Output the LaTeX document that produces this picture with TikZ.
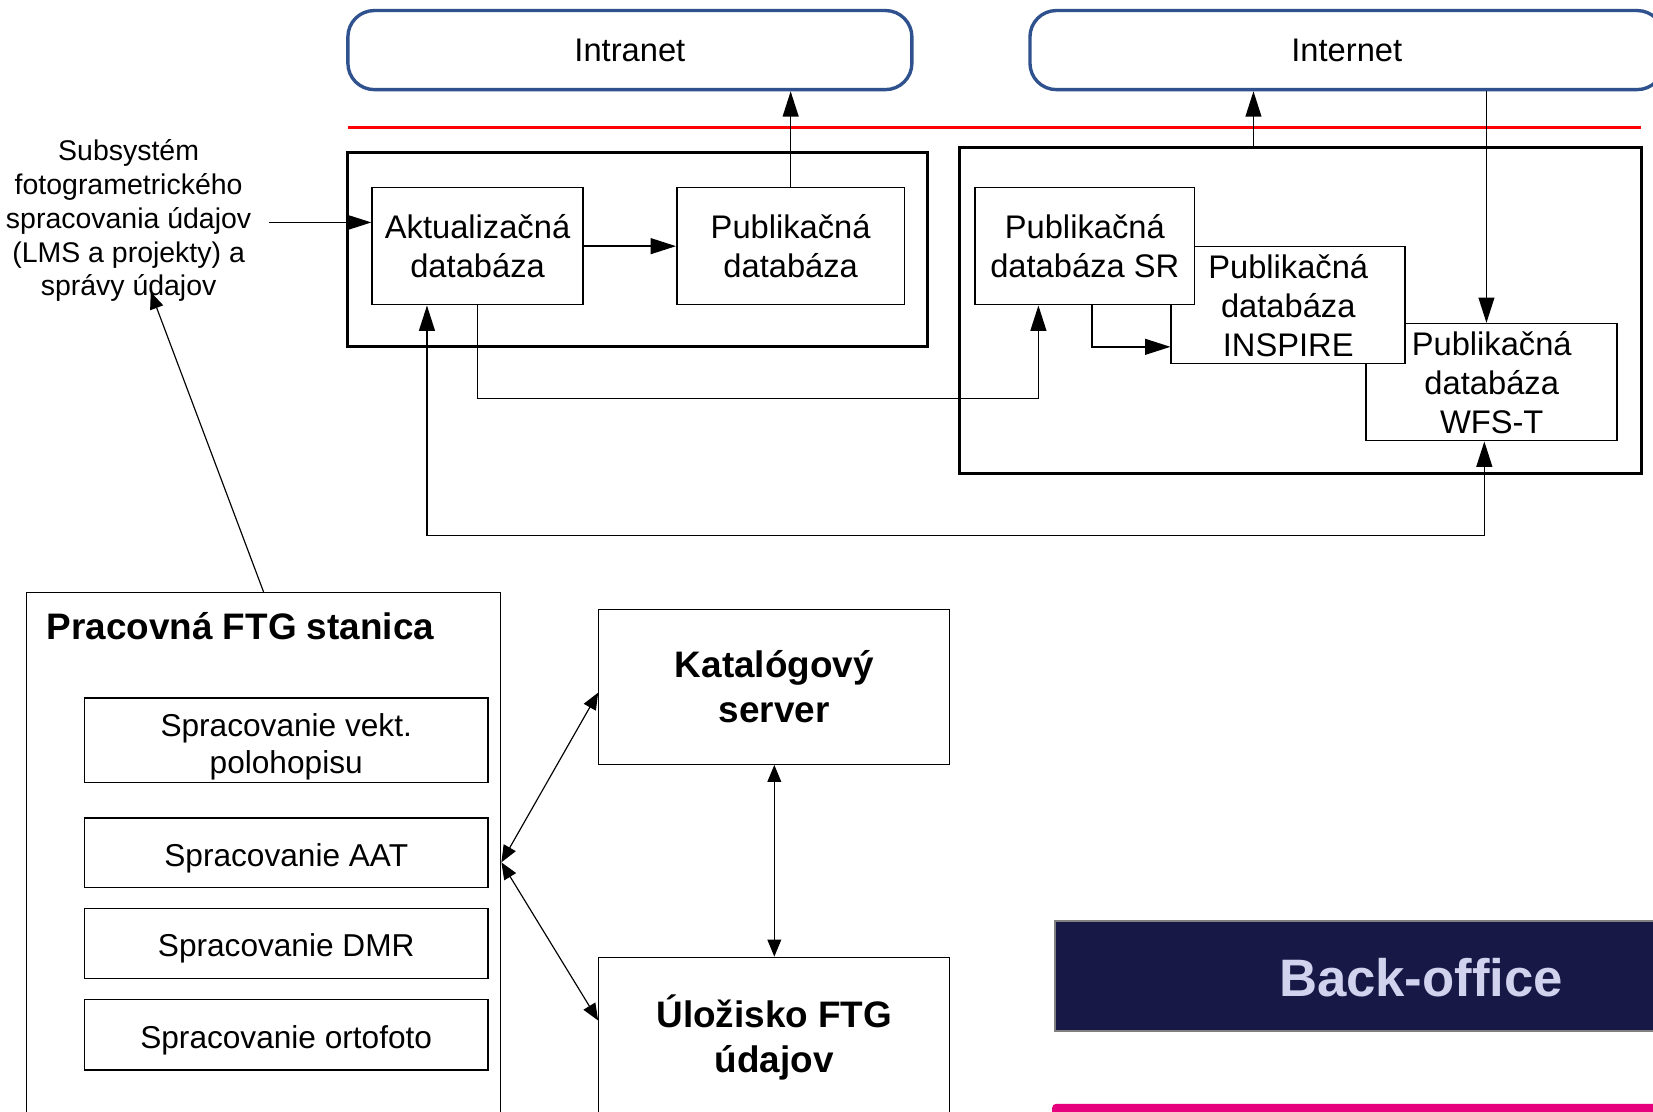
\documentclass[tikz,border=0pt]{standalone}
\usepackage{fontspec}
\setmainfont{Liberation Sans}
\usetikzlibrary{arrows.meta}
\definecolor{netblue}{RGB}{47,82,143}
\definecolor{navyfill}{RGB}{24,24,70}
\definecolor{lavtext}{RGB}{208,210,238}
\definecolor{magbar}{RGB}{230,0,126}
\begin{document}
\begin{tikzpicture}[x=1pt,y=-1pt,
  netbox/.style={draw=netblue, line width=3.2pt, rounded corners=25pt, fill=white, inner sep=1pt,
    font=\fontsize{31pt}{37pt}\selectfont},
  bigbox/.style={draw=black, line width=3pt},
  dbbox/.style={draw=black, line width=1.5pt, fill=white, inner sep=1pt, align=center,
    font=\fontsize{31pt}{37pt}\selectfont},
  subbox/.style={draw=black, line width=1.2pt, fill=white, inner sep=1pt},
  subtext/.style={inner sep=0pt, align=center, font=\fontsize{30pt}{35pt}\selectfont},
  srvbox/.style={draw=black, line width=1.2pt, fill=white, inner sep=1pt, align=center,
    font=\bfseries\fontsize{35pt}{43pt}\selectfont},
  conn/.style={line width=1.4pt},
  connS/.style={line width=1.1pt},
  arrT/.style={-{Triangle[length=24pt,width=15pt]}},
  darrT/.style={{Triangle[length=24pt,width=15pt]}-{Triangle[length=24pt,width=15pt]}},
  arrS/.style={-{Triangle[length=16pt,width=13pt]}},
  darrS/.style={{Triangle[length=16pt,width=13pt]}-{Triangle[length=16pt,width=13pt]}}]

\clip (0,0) rectangle (1568,1054);
\fill[white] (0,0) rectangle (1568,1054);

% network boxes
\node[netbox, minimum width=535pt, minimum height=75pt] (intranet) at (597.5,47.5) {Intranet};
\node[netbox, minimum width=601pt, minimum height=75pt] (internet) at (1277.5,47.5) {Internet};

% red separator
\draw[red, line width=2.5pt] (330,121) -- (1557,121);

% container boxes
\node[bigbox, minimum width=550pt, minimum height=184pt] (leftbig) at (605,237) {};
\node[bigbox, minimum width=647pt, minimum height=309pt] (rightbig) at (1233.5,294.5) {};

% databases
\node[dbbox, minimum width=200pt, minimum height=111pt] (akt) at (453,233.5) {Aktualizačná\\databáza};
\node[dbbox, minimum width=216pt, minimum height=111pt] (pub) at (750,233.5) {Publikačná\\databáza};
\node[dbbox, minimum width=238pt, minimum height=111pt] (wfs) at (1415,362.5) {Publikačná\\databáza\\WFS-T};
\node[dbbox, minimum width=222pt, minimum height=111pt] (insp) at (1222,289.5) {Publikačná\\databáza\\INSPIRE};
\node[dbbox, minimum width=208pt, minimum height=111pt] (sr) at (1029,233.5) {Publikačná\\databáza SR};

% subsystem text
\node[align=center, inner sep=0pt, font=\fontsize{27pt}{32pt}\selectfont] (subsys) at (122,209.5)
  {Subsystém\\fotogrametrického\\spracovania údajov\\(LMS a projekty) a\\správy údajov};

% helper coordinates
\coordinate (t1) at (255,211);
\coordinate (t2) at (143,277);
\coordinate (y378) at (0,378);
\coordinate (y508) at (0,508);
\coordinate (y329) at (0,329);
\coordinate (x1189) at (1189,0);
\coordinate (a1) at ([xshift=-48pt]akt.south);
\coordinate (s1) at ([xshift=-44pt]sr.south);
\coordinate (s2) at ([xshift=7pt]sr.south);
\coordinate (w1) at ([xshift=-5pt]wfs.north);
\coordinate (w2) at ([xshift=-7pt]wfs.south);

% top connectors
\draw[conn, arrT] (akt.east) -- (pub.west);
\draw[conn, arrT] (pub.north) -- (intranet.south -| pub.north);
\draw[conn, arrT] (t1) -- (t1 -| akt.west);
\draw[conn, arrT] (akt.south) -- (akt.south |- y378) -| (s1);
\draw[conn, darrT] (a1) -- (a1 |- y508) -| (w2);
\draw[conn, arrT] (s2) |- (insp.west |- y329);
\draw[conn, arrT] (rightbig.north -| x1189) -- (internet.south -| x1189);
\draw[conn, arrT] (internet.south -| w1) -- (w1);

% lower part
\node[draw=black, line width=1.2pt, minimum width=450pt, minimum height=508pt] (prac) at (250,816) {};
\node[anchor=west, inner sep=0pt, font=\bfseries\fontsize{35pt}{42pt}\selectfont] (pract) at (44,594) {Pracovná FTG stanica};
\node[subbox, minimum width=383pt, minimum height=80pt] (sub1) at (271.5,702) {};
\node[subbox, minimum width=383pt, minimum height=66pt] (sub2) at (271.5,809) {};
\node[subbox, minimum width=383pt, minimum height=66pt] (sub3) at (271.5,895) {};
\node[subbox, minimum width=383pt, minimum height=67pt] (sub4) at (271.5,981.5) {};
\node[subtext] (sub1t) at ([yshift=-6pt]sub1.center) {Spracovanie vekt.\\polohopisu};
\node[subtext] (sub2t) at ([yshift=-5pt]sub2.center) {Spracovanie AAT};
\node[subtext] (sub3t) at ([yshift=-5pt]sub3.center) {Spracovanie DMR};
\node[subtext] (sub4t) at ([yshift=-5pt]sub4.center) {Spracovanie ortofoto};

\node[srvbox, minimum width=333pt, minimum height=147pt] (kat) at (734.5,651.5) {Katalógový\\server};
\node[srvbox, minimum width=333pt, minimum height=152pt] (ulo) at (734.5,984) {Úložisko FTG\\údajov};

\draw[connS, arrS] (prac.north) -- (t2);
\draw[connS, darrS] (kat.south) -- (ulo.north);
\draw[connS, darrS] ([yshift=-2pt]prac.east) -- ([yshift=-5.5pt]kat.west);
\draw[connS, darrS] ([yshift=-2pt]prac.east) -- ([yshift=16pt]ulo.west);

% back-office banner
\node[draw=gray, line width=2pt, fill=navyfill, minimum width=600pt, minimum height=104pt, anchor=north west] (bo) at (1000,873) {};
\node[inner sep=0pt, text=lavtext, font=\bfseries\fontsize{50pt}{60pt}\selectfont] (botext) at (1348,927) {Back-office};
\fill[magbar, rounded corners=4pt] (998,1047) rectangle (1600,1080);
\end{tikzpicture}
\end{document}
